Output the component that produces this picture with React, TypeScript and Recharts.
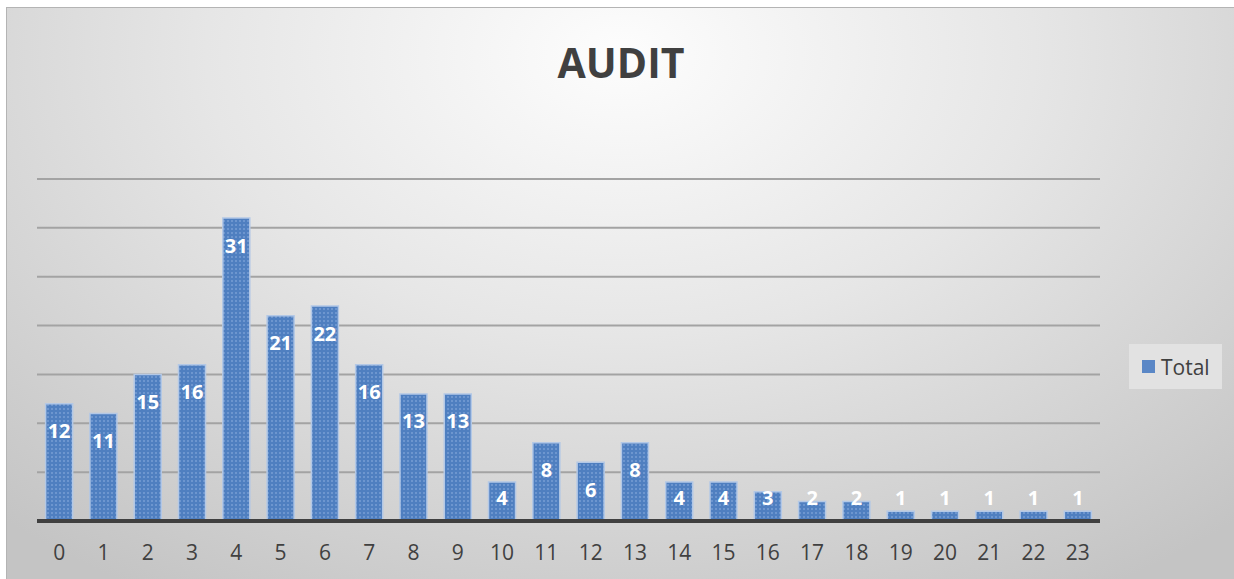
import { BarChart, Bar, XAxis, YAxis, CartesianGrid, Legend, LabelList } from 'recharts'

const hours = ['0', '1', '2', '3', '4', '5', '6', '7', '8', '9', '10', '11', '12', '13', '14', '15', '16', '17', '18', '19', '20', '21', '22', '23']
const totals = [12, 11, 15, 16, 31, 21, 22, 16, 13, 13, 4, 8, 6, 8, 4, 4, 3, 2, 2, 1, 1, 1, 1, 1]
const yTicks = [0, 5, 10, 15, 20, 25, 30, 35]

const data = hours.map((h, i) => ({ hour: h, Total: totals[i] }))

const font = '"Open Sans", "Liberation Sans", sans-serif'

function BarLabel(props: any) {
  const { x, y, width, height, value } = props
  const cy = Math.min(y + 27, y + height - 24)
  return (
    <text
      x={x + width / 2}
      y={cy}
      textAnchor="middle"
      dominantBaseline="central"
      fill="#ffffff"
      fontSize={20}
      fontWeight={700}
      fontFamily={font}
    >
      {value}
    </text>
  )
}

function LegendBox() {
  return (
    <div
      style={{
        width: 93,
        height: 45,
        background: '#e2e2e2',
        display: 'flex',
        alignItems: 'center',
        fontFamily: font,
        fontSize: 21,
        color: '#404040',
      }}
    >
      <span style={{ width: 13, height: 13, background: '#5a87c6', marginLeft: 13, marginRight: 6 }} />
      <span>Total</span>
    </div>
  )
}

export default function App() {
  return (
    <div style={{ position: 'absolute', left: 0, top: 0, width: 1234, height: 579, background: '#ffffff' }}>
      <div
        style={{
          position: 'absolute',
          left: 6,
          top: 7,
          width: 1228,
          height: 572,
          borderTop: '1px solid #b4b4b4',
          borderLeft: '1px solid #b4b4b4',
          boxSizing: 'border-box',
          background: 'radial-gradient(ellipse 75% 110% at 50% 8%, #fdfdfd 0%, #e6e6e6 45%, #c4c4c4 100%)',
        }}
      >
        <div
          style={{
            position: 'absolute',
            left: 0,
            width: 1228,
            top: 26,
            textAlign: 'center',
            fontFamily: font,
            fontWeight: 700,
            fontSize: 41,
            color: '#404040',
          }}
        >
          AUDIT
        </div>
        <BarChart
          width={1228}
          height={572}
          data={data}
          margin={{ top: 171, right: 135, left: 30, bottom: 19 }}
          barCategoryGap="19.5%"
        >
          <defs>
            <pattern id="dots" width="4" height="4" patternUnits="userSpaceOnUse">
              <rect width="4" height="4" fill="#4f7fc0" />
              <rect x="0" y="0" width="2" height="2" fill="#6d96cf" />
            </pattern>
          </defs>
          <CartesianGrid vertical={false} stroke="#a3a3a3" strokeWidth={2} />
          <XAxis
            dataKey="hour"
            height={40}
            tickLine={false}
            axisLine={{ stroke: '#404040', strokeWidth: 4 }}
            tickMargin={18}
            tick={{ fontSize: 21, fill: '#404040', fontFamily: font }}
            interval={0}
          />
          <YAxis
            domain={[0, 35]}
            ticks={yTicks}
            interval={0}
            width={0}
            tickFormatter={() => ''}
            axisLine={false}
            tickLine={false}
          />
          <Legend
            layout="horizontal"
            verticalAlign="middle"
            align="center"
            content={() => <LegendBox />}
            wrapperStyle={{ left: 1122, top: 336, width: 93, height: 45 }}
          />
          <Bar dataKey="Total" fill="url(#dots)" stroke="#b3c8e6" strokeWidth={1.5} isAnimationActive={false}>
            <LabelList dataKey="Total" content={BarLabel} />
          </Bar>
        </BarChart>
      </div>
    </div>
  )
}
